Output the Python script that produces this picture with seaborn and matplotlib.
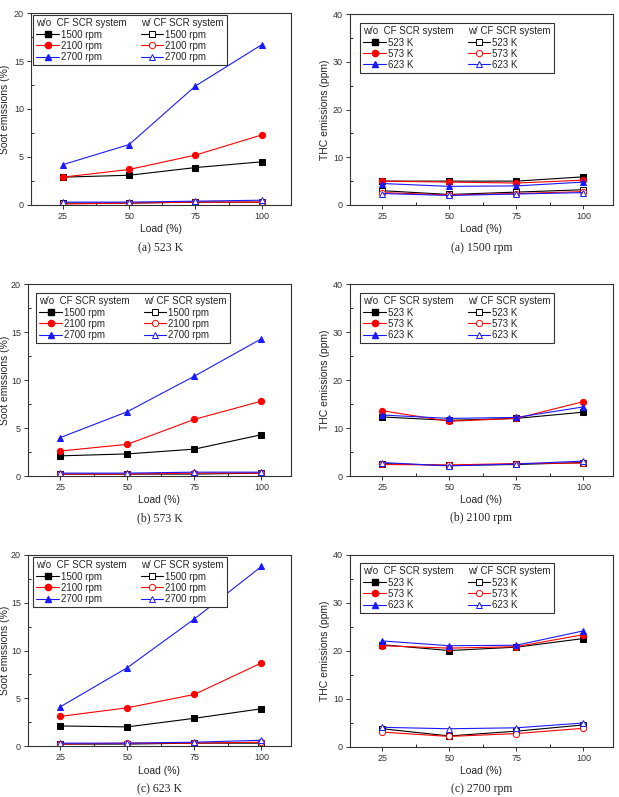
import seaborn as sns
import matplotlib.pyplot as plt
from matplotlib.lines import Line2D

load = [25, 50, 75, 100]
speeds = ['1500 rpm', '2100 rpm', '2700 rpm']
temps = ['523 K', '573 K', '623 K']

# soot emissions (%), rows = 1500 / 2100 / 2700 rpm
soot_523_wo = [[2.9, 3.1, 3.9, 4.5], [2.9, 3.7, 5.2, 7.3], [4.2, 6.3, 12.4, 16.7]]
soot_523_w = [[0.2, 0.2, 0.3, 0.3], [0.1, 0.2, 0.3, 0.3], [0.3, 0.3, 0.4, 0.5]]
soot_573_wo = [[2.1, 2.3, 2.8, 4.3], [2.6, 3.3, 5.9, 7.8], [4.0, 6.7, 10.4, 14.3]]
soot_573_w = [[0.2, 0.2, 0.2, 0.3], [0.2, 0.2, 0.3, 0.3], [0.3, 0.3, 0.4, 0.4]]
soot_623_wo = [[2.1, 2.0, 2.9, 3.9], [3.1, 4.0, 5.4, 8.7], [4.1, 8.2, 13.3, 18.8]]
soot_623_w = [[0.2, 0.2, 0.3, 0.3], [0.2, 0.3, 0.3, 0.4], [0.3, 0.3, 0.4, 0.6]]

# THC emissions (ppm), rows = 523 / 573 / 623 K
thc_1500_wo = [[5.0, 5.0, 5.0, 5.9], [5.0, 4.8, 4.6, 5.2], [4.5, 3.9, 4.0, 4.8]]
thc_1500_w = [[3.0, 2.2, 2.7, 3.2], [2.6, 2.1, 2.4, 2.8], [2.4, 2.0, 2.3, 2.6]]
thc_2100_wo = [[12.3, 11.6, 12.0, 13.3], [13.6, 11.4, 12.0, 15.5], [12.7, 12.0, 12.2, 14.4]]
thc_2100_w = [[2.6, 2.2, 2.4, 2.8], [2.4, 2.3, 2.6, 2.7], [2.8, 2.1, 2.5, 3.1]]
thc_2700_wo = [[21.3, 20.1, 20.8, 22.6], [21.1, 20.6, 20.9, 23.4], [22.1, 21.1, 21.2, 24.2]]
thc_2700_w = [[3.8, 2.3, 3.3, 4.6], [3.1, 2.2, 2.8, 3.9], [4.1, 3.8, 4.0, 5.0]]

colors = ['black', '#ff0000', '#1a1aff']
markers = ['s', 'o', '^']

sns.set_style("ticks")
plt.rcParams['font.family'] = ['Liberation Sans', 'DejaVu Sans']

W, H = 619, 797
fig = plt.figure(figsize=(W / 100, H / 100), dpi=100)


def panel(box, wo, w, names, ylabel, ymax, ystep, caption, legpos, ylab_x, xlab_y, cap_y):
    # box = (left, top, right, bottom) in pixels
    l, t, r, b = box
    ax = fig.add_axes([l / W, 1 - b / H, (r - l) / W, (b - t) / H])
    for i in range(3):
        sns.lineplot(x=load, y=wo[i], ax=ax, color=colors[i], marker=markers[i],
                     markersize=4.5, markeredgecolor=colors[i], linewidth=0.8)
    for i in range(3):
        sns.lineplot(x=load, y=w[i], ax=ax, color=colors[i], marker=markers[i],
                     markersize=4.5, markerfacecolor='white', markeredgecolor=colors[i],
                     markeredgewidth=0.7, linewidth=0.8)
    ax.set_xlim(13, 111)
    ax.set_ylim(0, ymax)
    ax.set_xticks(load)
    ax.set_xticks([37.5, 62.5, 87.5], minor=True)
    ax.set_yticks(range(0, ymax + 1, ystep))
    ax.set_yticks([ystep / 2 + k * ystep for k in range(ymax // ystep)], minor=True)
    ax.tick_params(labelsize=6.5, length=3, width=0.7, colors='#333333', pad=2)
    ax.tick_params(which='minor', direction='in', length=2.5, width=0.7)
    for s in ax.spines.values():
        s.set_linewidth(0.8)
        s.set_color('#333333')
    ax.set_xlabel('Load (%)', fontsize=7.5)
    ax.set_ylabel(ylabel, fontsize=7.5)
    ax.xaxis.set_label_coords(0.5, -(xlab_y - b) / (b - t))
    ax.yaxis.set_label_coords((ylab_x - l) / (r - l), 0.5)
    ax.xaxis.label.set_va('center')
    ax.yaxis.label.set_va('center')

    # legend with a header above each column
    handles = [Line2D([], [], linestyle='none')]
    labels = ['w/o  CF SCR system']
    for i in range(3):
        handles.append(Line2D([], [], color=colors[i], marker=markers[i], markersize=4.5, linewidth=0.8))
        labels.append(names[i])
    handles.append(Line2D([], [], linestyle='none'))
    labels.append('w/ CF SCR system')
    for i in range(3):
        handles.append(Line2D([], [], color=colors[i], marker=markers[i], markersize=4.5,
                              markerfacecolor='white', markeredgewidth=0.7, linewidth=0.8))
        labels.append(names[i])
    leg = ax.legend(handles, labels, ncol=2, loc='upper left',
                    bbox_to_anchor=((legpos[0] - l) / (r - l), (b - legpos[1]) / (b - t)),
                    borderaxespad=0, fontsize=7, frameon=True, fancybox=False,
                    edgecolor='#333333', framealpha=1, handlelength=2.3, handletextpad=0.2,
                    labelspacing=0.12, columnspacing=1.4, borderpad=0.35)
    leg.get_frame().set_linewidth(0.8)
    for col in leg._legend_handle_box.get_children():
        row = col.get_children()[0]
        row.get_children()[0].width = 0
        row.sep = 0

    fig.text((l + r) / 2 / W, 1 - cap_y / H, caption, ha='center', va='center',
             fontsize=8.5, family='Liberation Serif')


panel((31, 13, 291, 205), soot_523_wo, soot_523_w, speeds, 'Soot emissions (%)', 20, 5,
      '(a) 523 K', (33, 15), 5, 229, 248)
panel((350, 14, 613, 205), thc_1500_wo, thc_1500_w, temps, 'THC emissions (ppm)', 40, 10,
      '(a) 1500 rpm', (360, 23), 325, 229, 248)
panel((28, 284, 291, 476), soot_573_wo, soot_573_w, speeds, 'Soot emissions (%)', 20, 5,
      '(b) 573 K', (36, 293), 5, 500, 518)
panel((350, 284, 613, 476), thc_2100_wo, thc_2100_w, temps, 'THC emissions (ppm)', 40, 10,
      '(b) 2100 rpm', (360, 293), 325, 500, 518)
panel((28, 555, 291, 746), soot_623_wo, soot_623_w, speeds, 'Soot emissions (%)', 20, 5,
      '(c) 623 K', (33, 557), 5, 771, 789)
panel((350, 555, 613, 747), thc_2700_wo, thc_2700_w, temps, 'THC emissions (ppm)', 40, 10,
      '(c) 2700 rpm', (360, 563), 325, 771, 789)

fig.savefig('out.png', dpi=100)
